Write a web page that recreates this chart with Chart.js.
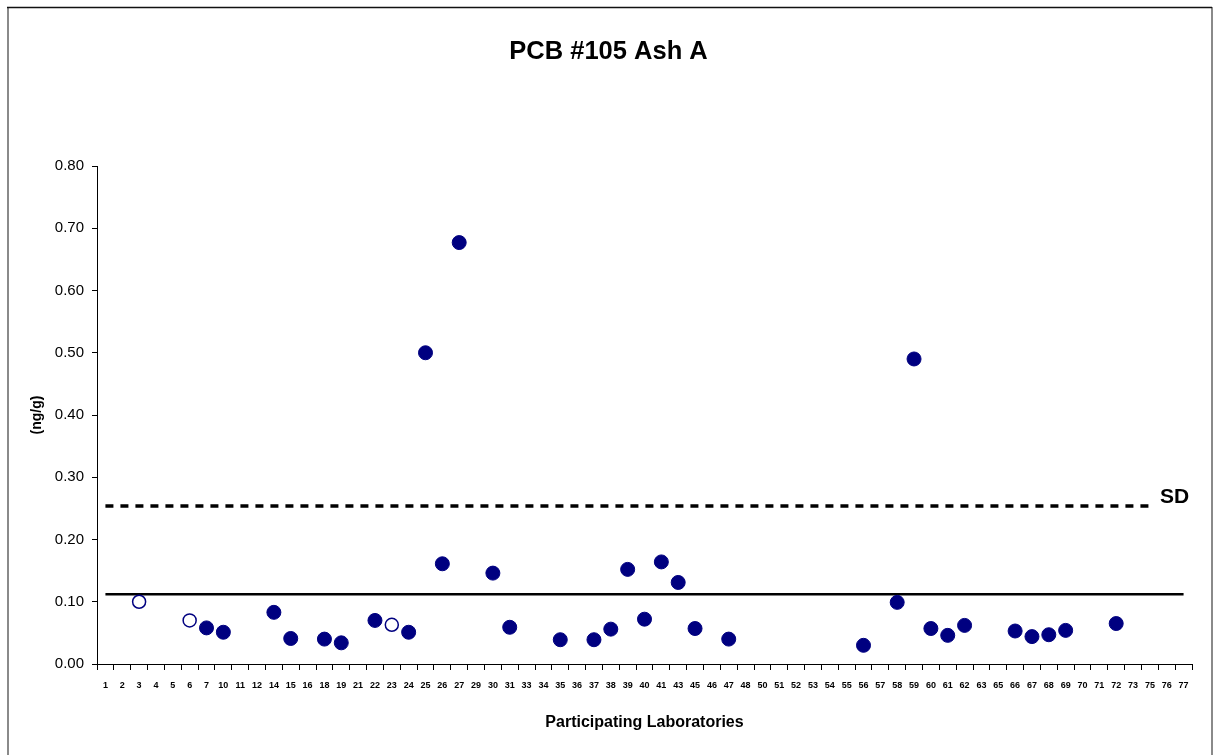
<!DOCTYPE html>
<html>
<head>
<meta charset="utf-8">
<title>PCB #105 Ash A</title>
<script src="https://cdn.jsdelivr.net/npm/chart.js@4/dist/chart.umd.min.js"></script>
<style>
  html, body { margin: 0; padding: 0; background: #ffffff; }
  #wrap { position: relative; width: 1217px; height: 755px; }
  canvas { display: block; }
</style>
</head>
<body>
<div id="wrap"><canvas id="chart" width="1217" height="755"></canvas></div>
<script>
// Participating laboratory codes shown along the x axis
const labLabels = ['1','2','3','4','5','6','7','10','11','12','14','15','16','18','19','21','22','23','24','25','26','27','29','30','31','33','34','35','36','37','38','39','40','41','43','45','46','47','48','50','51','52','53','54','55','56','57','58','59','60','61','62','63','65','66','67','68','69','70','71','72','73','75','76','77'];

// Reported results (ng/g), filled markers
const resultLabs   = ['7','10','14','15','18','19','22','24','25','26','27','30','31','35','37','38','39','40','41','43','45','47','56','58','59','60','61','62','66','67','68','69','72'];
const resultValues = [0.058,0.051,0.083,0.041,0.040,0.034,0.070,0.051,0.500,0.161,0.677,0.146,0.059,0.039,0.039,0.056,0.152,0.072,0.164,0.131,0.057,0.040,0.030,0.099,0.490,0.057,0.046,0.062,0.053,0.044,0.047,0.054,0.065];

// Results drawn with open markers
const openLabs   = ['3','6','23'];
const openValues = [0.100,0.070,0.063];

// Consensus mean and SD limit (ng/g)
const meanValue = 0.112;
const sdValue = 0.254;
const meanFrom = '1', meanTo = '77';
const sdFrom = '1', sdTo = '75';

const yTicks = [0, 0.1, 0.2, 0.3, 0.4, 0.5, 0.6, 0.7, 0.8];

function toSeries(labs, values) {
  const out = labLabels.map(() => null);
  labs.forEach((l, i) => { out[labLabels.indexOf(l)] = values[i]; });
  return out;
}
function flatLine(value, from, to) {
  const a = labLabels.indexOf(from), b = labLabels.indexOf(to);
  return labLabels.map((_, i) => (i >= a && i <= b) ? value : null);
}

const FONT = "'Liberation Sans', Arial, Helvetica, sans-serif";
const NAVY = '#000080';

// Outer frame of the chart
const framePlugin = {
  id: 'frame',
  afterDraw(chart) {
    const ctx = chart.ctx;
    ctx.save();
    ctx.strokeStyle = '#8a8a8a';
    ctx.lineWidth = 2;
    ctx.beginPath();
    ctx.moveTo(8, 7); ctx.lineTo(8, 755);
    ctx.moveTo(1212, 7); ctx.lineTo(1212, 755);
    ctx.stroke();
    ctx.strokeStyle = '#111111';
    ctx.lineWidth = 1.5;
    ctx.beginPath();
    ctx.moveTo(7, 7.5); ctx.lineTo(1212, 7.5);
    ctx.stroke();
    ctx.restore();
  }
};

// "SD" tag at the end of the dashed limit line
const sdTagPlugin = {
  id: 'sdTag',
  afterDatasetsDraw(chart) {
    const x = chart.scales.x, y = chart.scales.y;
    const ctx = chart.ctx;
    ctx.save();
    ctx.font = "bold 21px " + FONT;
    ctx.fillStyle = '#000000';
    ctx.textAlign = 'left';
    ctx.textBaseline = 'middle';
    ctx.fillText('SD', x.getPixelForValue(labLabels.indexOf(sdTo)) + 10, y.getPixelForValue(sdValue) - 9);
    ctx.restore();
  }
};

new Chart(document.getElementById('chart'), {
  type: 'line',
  data: {
    labels: labLabels,
    datasets: [
      {
        label: 'SD',
        data: flatLine(sdValue, sdFrom, sdTo),
        borderColor: '#000000',
        borderWidth: 3.5,
        borderDash: [8, 7],
        pointRadius: 0,
        spanGaps: false,
        order: 3
      },
      {
        label: 'Mean',
        data: flatLine(meanValue, meanFrom, meanTo),
        borderColor: '#000000',
        borderWidth: 2.5,
        pointRadius: 0,
        order: 2
      },
      {
        label: 'Results',
        data: toSeries(resultLabs, resultValues),
        showLine: false,
        pointRadius: 7,
        pointBackgroundColor: NAVY,
        pointBorderColor: NAVY,
        pointBorderWidth: 1,
        order: 1
      },
      {
        label: 'Open results',
        data: toSeries(openLabs, openValues),
        showLine: false,
        pointRadius: 6.5,
        pointBackgroundColor: '#ffffff',
        pointBorderColor: NAVY,
        pointBorderWidth: 1.5,
        order: 0
      }
    ]
  },
  options: {
    responsive: false,
    devicePixelRatio: 1,
    animation: false,
    events: [],
    layout: { padding: { left: 0, right: 0, top: 0, bottom: 20 } },
    plugins: {
      legend: { display: false },
      tooltip: { enabled: false },
      title: {
        display: true,
        text: 'PCB #105 Ash A',
        color: '#000000',
        font: { family: FONT, size: 25.5, weight: 'bold', lineHeight: 1.2 },
        padding: { top: 37, bottom: 98.4 }
      }
    },
    scales: {
      x: {
        type: 'category',
        offset: true,
        afterFit(scale) { scale.height = 71; },
        border: { display: true, color: '#000000', width: 1 },
        grid: {
          display: true,
          offset: true,
          drawOnChartArea: false,
          drawTicks: true,
          tickLength: 6,
          color: '#000000'
        },
        ticks: {
          autoSkip: false,
          maxRotation: 0,
          minRotation: 0,
          padding: 10,
          color: '#000000',
          font: { family: FONT, size: 9, weight: 'bold' }
        },
        title: {
          display: true,
          text: 'Participating Laboratories',
          color: '#000000',
          font: { family: FONT, size: 16, weight: 'bold', lineHeight: 1.2 },
          padding: { top: 4, bottom: 3 }
        }
      },
      y: {
        min: 0,
        max: 0.8,
        afterFit(scale) { scale.width = 97; },
        afterBuildTicks(scale) { scale.ticks = yTicks.map(v => ({ value: v })); },
        border: { display: true, color: '#000000', width: 1 },
        grid: {
          display: true,
          drawOnChartArea: false,
          drawTicks: true,
          tickLength: 5,
          color: '#000000'
        },
        ticks: {
          padding: 8,
          color: '#000000',
          font: { family: FONT, size: 15 },
          callback: v => Number(v).toFixed(2)
        },
        title: {
          display: true,
          text: '(ng/g)',
          color: '#000000',
          font: { family: FONT, size: 14, weight: 'bold', lineHeight: 1.2 },
          padding: { top: 29, bottom: 4 }
        }
      },
      // empty right-hand margin beside the plot
      yRight: {
        position: 'right',
        display: true,
        afterFit(scale) { scale.width = 25; },
        border: { display: false },
        grid: { display: false, drawTicks: false },
        ticks: { display: false }
      }
    }
  },
  plugins: [framePlugin, sdTagPlugin]
});
</script>
</body>
</html>
